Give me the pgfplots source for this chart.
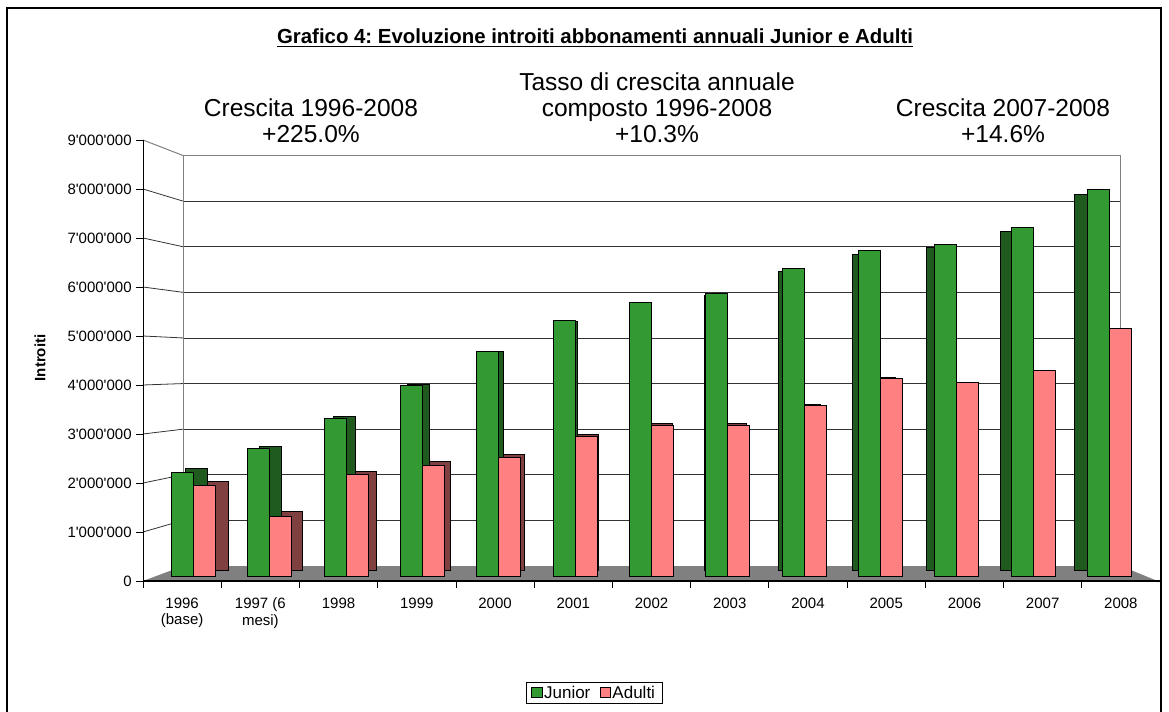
\documentclass[border=0pt]{standalone}
\usepackage{fontspec}
\setmainfont{Liberation Sans}
\usepackage{pgfplots}
\usepackage{pgfplotstable}
\pgfplotsset{compat=1.18}

\definecolor{junior}{HTML}{339933}
\definecolor{juniorside}{HTML}{1F5A1F}
\definecolor{adulti}{HTML}{FF8080}
\definecolor{adultiside}{HTML}{804040}
\definecolor{floorgray}{HTML}{808080}

% introiti per anno (0 = 1996 ... 12 = 2008)
\pgfplotstableread{
idx junior  adulti
0   2180000 1900000
1   2670000 1260000
2   3300000 2130000
3   4000000 2330000
4   4710000 2500000
5   5350000 2920000
6   5730000 3150000
7   5920000 3150000
8   6440000 3580000
9   6810000 4150000
10  6950000 4050000
11  7300000 4300000
12  8100000 5180000
}\introiti

\def\q{\textquotesingle}
\newcommand\tickfont{\fontsize{11.25}{12.5}\selectfont}
\frenchspacing

\begin{document}
\begin{tikzpicture}
\begin{scope}[x=0.75pt,y=-0.75pt]
\path[use as bounding box] (0,0) rectangle (1169,712);
% cornice
\draw[line width=1.5pt] (7,730) -- (7,8) -- (1161,8) -- (1161,730);
% titolo
\node[font=\bfseries\fontsize{15.3}{17}\selectfont] at (595,38) {\underline{Grafico 4: Evoluzione introiti abbonamenti annuali Junior e Adulti}};
% annotazioni
\node[align=center, font=\fontsize{18.4}{19.5}\selectfont] at (311,121) {Crescita 1996-2008\\+225.0\%};
\node[align=center, font=\fontsize{18.4}{19.5}\selectfont] at (657,108) {Tasso di crescita annuale\\composto 1996-2008\\+10.3\%};
\node[align=center, font=\fontsize{18.4}{19.5}\selectfont] at (1003,121) {Crescita 2007-2008\\+14.6\%};
% titolo asse y
\node[rotate=90, font=\bfseries\tickfont] at (40,358) {Introiti};
\end{scope}

% parete di fondo
\begin{axis}[at={(137.25pt,-424.5pt)}, anchor=south west, scale only axis,
    width=702.75pt, height=307.875pt,
    xmin=0, xmax=1, ymin=0, ymax=9000000,
    xtick=\empty, scaled y ticks=false,
    ytick={1000000,2000000,3000000,4000000,5000000,6000000,7000000,8000000},
    yticklabels={}, major tick length=0pt,
    ymajorgrids, grid style={black!80, line width=0.6pt},
    axis line style={floorgray, line width=0.75pt}]
\addplot[draw=none] coordinates {(0,0)};
\end{axis}

\begin{scope}[x=0.75pt,y=-0.75pt]
% parete laterale
\foreach \k in {1,...,8}
  \draw[black!80, line width=0.6pt] (143,{581-49*\k}) -- (183,{566-45.61*\k});
\draw[floorgray, line width=0.75pt] (143,140) -- (183,155.5);
% pavimento
\fill[floorgray] (143,581) -- (183,566) -- (1121,566) -- (1160,582) -- cycle;
\end{scope}

% facce laterali delle colonne
\begin{axis}[at={(127.575pt,-427.5pt)}, anchor=south west, scale only axis,
    width=722.1pt, height=313pt,
    xmin=-0.5, xmax=12.5, ymin=0, ymax=9000000,
    hide axis, ybar, bar width=16pt]
\addplot[fill=juniorside, draw=black, line width=0.75pt, bar shift=-8pt]
  table[x=idx, y=junior] {\introiti};
\addplot[fill=adultiside, draw=black, line width=0.75pt, bar shift=8pt]
  table[x=idx, y=adulti] {\introiti};
\end{axis}

% facce frontali delle colonne
\begin{axis}[at={(116.4pt,-432.375pt)}, anchor=south west, scale only axis,
    width=744.45pt, height=322.65pt,
    xmin=-0.5, xmax=12.5, ymin=0, ymax=9000000,
    hide axis, ybar, bar width=16.5pt,
    legend columns=2,
    legend style={at={(0.4426,-0.2708)}, anchor=center, draw=black,
      line width=0.75pt, font=\fontsize{12.75}{14}\selectfont,
      inner xsep=3.5pt, inner ysep=0.5pt,
      /tikz/every even column/.append style={column sep=5pt},
      /tikz/every odd column/.append style={column sep=-1pt}},
    legend image code/.code={\draw[#1, line width=0.75pt] (0pt,-3.6pt) rectangle (7.8pt,4.2pt);}]
\addplot[fill=junior, draw=black, line width=0.75pt, bar shift=-8.25pt]
  table[x=idx, y=junior] {\introiti};
\addlegendentry{Junior}
\addplot[fill=adulti, draw=black, line width=0.75pt, bar shift=8.25pt]
  table[x=idx, y=adulti] {\introiti};
\addlegendentry{Adulti}
\end{axis}

% assi frontali
\begin{axis}[at={(107.25pt,-435.75pt)}, anchor=south west, scale only axis,
    width=762.75pt, height=330.75pt,
    xmin=0, xmax=13, ymin=0, ymax=9000000,
    axis x line*=bottom, axis y line*=left,
    x axis line style={-, line width=1.5pt},
    y axis line style={-, line width=0.75pt},
    scaled y ticks=false,
    xtick={0,...,13}, x tick label as interval,
    xticklabels={{1996\\(base)},{1997 (6\\mesi)},1998,1999,2000,2001,2002,2003,2004,2005,2006,2007,2008},
    x tick label style={align=center, font=\tickfont, yshift=-4pt},
    ytick={0,1000000,2000000,3000000,4000000,5000000,6000000,7000000,8000000,9000000},
    yticklabels={0,1\q000\q000,2\q000\q000,3\q000\q000,4\q000\q000,5\q000\q000,6\q000\q000,7\q000\q000,8\q000\q000,9\q000\q000},
    y tick label style={font=\tickfont},
    tick align=outside, major tick length=5pt,
    tick style={black, line width=0.6pt}]
\addplot[draw=none] coordinates {(0,0)};
\end{axis}
\end{tikzpicture}
\end{document}
